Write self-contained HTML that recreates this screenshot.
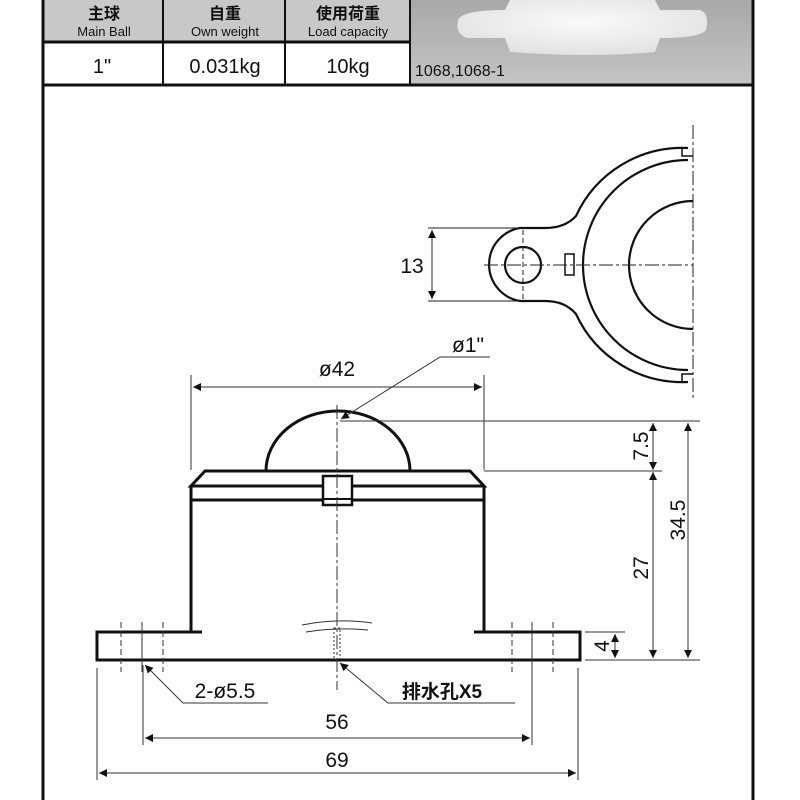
<!DOCTYPE html>
<html><head><meta charset="utf-8"><style>
html,body{margin:0;padding:0;background:#fff;width:800px;height:800px;overflow:hidden}
svg{display:block}
text{font-family:"Liberation Sans","Noto Sans CJK SC",sans-serif;fill:#111}
</style></head><body>
<svg width="800" height="800" viewBox="0 0 800 800" xmlns="http://www.w3.org/2000/svg">
<defs>
<linearGradient id="g" x1="0" y1="0" x2="0" y2="1"><stop offset="0" stop-color="#a8a8a8"/><stop offset="1" stop-color="#c4c4c4"/></linearGradient>
<radialGradient id="w" cx="0.5" cy="0.4" r="0.6"><stop offset="0" stop-color="#fafafa"/><stop offset="1" stop-color="#e2e2e2"/></radialGradient>
<marker id="a" viewBox="0 0 10 10" refX="10" refY="5" markerWidth="10" markerHeight="8" markerUnits="userSpaceOnUse" orient="auto-start-reverse"><path d="M0,0L10,5L0,10z" fill="#111"/></marker>
</defs>
<rect x="43" y="0" width="367" height="42" fill="#c8c8c8"/>
<rect x="410" y="0" width="342" height="84" fill="url(#g)"/>
<path d="M510,0 L655,0 L660,10 L700,10 Q710,14 706,30 Q700,38 660,38 L655,52 Q590,58 510,52 L505,38 L468,38 Q455,35 458,20 Q462,10 505,10 Z" fill="url(#w)"/>
<text x="415" y="76" font-size="16">1068,1068-1</text>
<g stroke="#111" fill="none">
<line x1="43" y1="42" x2="410" y2="42" stroke-width="3"/>
<line x1="43" y1="85" x2="754" y2="85" stroke-width="3"/>
<line x1="43" y1="0" x2="43" y2="800" stroke-width="3"/>
<line x1="753" y1="0" x2="753" y2="800" stroke-width="3"/>
<line x1="163" y1="0" x2="163" y2="84" stroke-width="2"/>
<line x1="285" y1="0" x2="285" y2="84" stroke-width="2"/>
<line x1="410" y1="0" x2="410" y2="84" stroke-width="2"/>
</g>
<g text-anchor="middle">
<text x="104" y="19" font-size="16" font-weight="bold">主球</text>
<text x="104" y="36" font-size="13">Main Ball</text>
<text x="225" y="19" font-size="16" font-weight="bold">自重</text>
<text x="225" y="36" font-size="13">Own weight</text>
<text x="348" y="19" font-size="16" font-weight="bold">使用荷重</text>
<text x="348" y="36" font-size="13">Load capacity</text>
<text x="102" y="73" font-size="20">1"</text>
<text x="225" y="73" font-size="20">0.031kg</text>
<text x="348" y="73" font-size="20">10kg</text>
</g>
<g stroke="#111" fill="none" stroke-width="2.2">
<path d="M688,148 A117,117 0 0 0 576,216 Q565,228 545,228 L520,228 A37,37 0 0 0 520,301 L545,301 Q565,301 576,314 A117,117 0 0 0 688,382"/>
<path d="M688,160 A105,105 0 0 0 688,370"/>
<path d="M693,201 A64,64 0 0 0 693,329"/>
<circle cx="523" cy="265" r="18"/>
<rect x="565" y="254" width="9" height="21" stroke-width="1.5"/>
<path d="M682,148 v8 h11 M682,382 v-8 h11" stroke-width="1.5"/>
</g>
<g stroke="#222" fill="none" stroke-width="1">
<line x1="693" y1="125" x2="693" y2="400" stroke-dasharray="14,3,3,3"/>
<line x1="484" y1="265" x2="693" y2="265" stroke-dasharray="14,3,3,3"/>
<line x1="523" y1="230" x2="523" y2="300" stroke-dasharray="5,3"/>
<line x1="428" y1="228" x2="520" y2="228"/>
<line x1="428" y1="301" x2="520" y2="301"/>
<line x1="432" y1="230" x2="432" y2="299" marker-start="url(#a)" marker-end="url(#a)"/>
</g>
<text x="412" y="273" font-size="21" text-anchor="middle">13</text>
<g stroke="#111" fill="none" stroke-width="3">
<path d="M266,471 A72,60 0 0 1 410,471"/>
<path d="M205,471 L470,471 L484,486 L191,486 Z M191,486 L191,632 M484,486 L484,632 M191,500 L484,500"/>
<rect x="323" y="476" width="29" height="29" fill="#fff" stroke-width="2.5"/>
<line x1="323" y1="499" x2="352" y2="499" stroke-width="2"/>
<path d="M202,632 L97,632 L97,660 L580,660 L580,632 L474,632"/>
</g>
<g stroke="#333" fill="none" stroke-width="1">
<line x1="337" y1="405" x2="337" y2="690" stroke-dasharray="14,3,3,3"/>
<path d="M302,625 Q337,618 372,623 M306,632 Q337,627 368,630"/>
<rect x="334" y="628" width="6" height="31" stroke-dasharray="2,2"/>
<line x1="121" y1="622" x2="121" y2="672" stroke-dasharray="6,3"/>
<line x1="142" y1="622" x2="142" y2="672"/>
<line x1="163" y1="622" x2="163" y2="672" stroke-dasharray="6,3"/>
<line x1="512" y1="622" x2="512" y2="672" stroke-dasharray="6,3"/>
<line x1="532" y1="622" x2="532" y2="672"/>
<line x1="553" y1="622" x2="553" y2="672" stroke-dasharray="6,3"/>
<line x1="191" y1="375" x2="191" y2="470"/>
<line x1="484" y1="375" x2="484" y2="470"/>
<line x1="340" y1="421" x2="700" y2="421"/>
<line x1="484" y1="471" x2="662" y2="471"/>
<line x1="585" y1="632" x2="625" y2="632"/>
<line x1="585" y1="660" x2="700" y2="660"/>
<line x1="97" y1="668" x2="97" y2="780"/>
<line x1="578" y1="668" x2="578" y2="780"/>
<line x1="143" y1="665" x2="143" y2="745"/>
<line x1="532" y1="665" x2="532" y2="745"/>
<line x1="193" y1="387" x2="482" y2="387" marker-start="url(#a)" marker-end="url(#a)"/>
<line x1="653" y1="423" x2="653" y2="470" marker-start="url(#a)" marker-end="url(#a)"/>
<line x1="653" y1="472" x2="653" y2="658" marker-start="url(#a)" marker-end="url(#a)"/>
<line x1="688" y1="423" x2="688" y2="658" marker-start="url(#a)" marker-end="url(#a)"/>
<line x1="615" y1="634" x2="615" y2="658" marker-start="url(#a)" marker-end="url(#a)"/>
<line x1="99" y1="773" x2="576" y2="773" marker-start="url(#a)" marker-end="url(#a)"/>
<line x1="145" y1="738" x2="530" y2="738" marker-start="url(#a)" marker-end="url(#a)"/>
<path d="M490,357 L440,357 L341,419" marker-end="url(#a)"/>
<path d="M268,703 L183,703 L145,665" marker-end="url(#a)"/>
<path d="M515,703 L388,703 L340,663" marker-end="url(#a)"/>
</g>
<g font-size="21" text-anchor="middle">
<text x="337" y="376">ø42</text>
<text x="468" y="352">ø1"</text>
<text x="225" y="698">2-ø5.5</text>
<text x="442" y="698" font-weight="bold" font-size="19">排水孔X5</text>
<text x="337" y="729">56</text>
<text x="337" y="767">69</text>
<text transform="translate(648,446) rotate(-90)">7.5</text>
<text transform="translate(648,568) rotate(-90)">27</text>
<text transform="translate(685,520) rotate(-90)">34.5</text>
<text transform="translate(609,646) rotate(-90)">4</text>
</g>
</svg>
</body></html>
